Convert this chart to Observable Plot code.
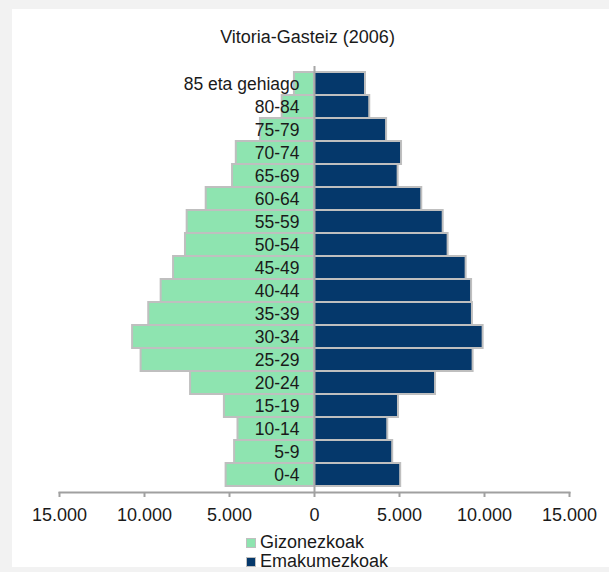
<!DOCTYPE html>
<html>
<head>
<meta charset="utf-8">
<script src="https://cdn.jsdelivr.net/npm/d3@7"></script>
<script src="https://cdn.jsdelivr.net/npm/@observablehq/plot@0.6"></script>
<style>
  html, body { margin: 0; padding: 0; background: #f2f2f2; overflow: hidden; }
  body { width: 609px; height: 572px; position: relative; font-family: "Liberation Sans", Arial, sans-serif; color: #1a1a1a; }
  #panel { position: absolute; left: 12px; top: 9px; width: 597px; height: 558px; background: #fff; }
  #subtitle { height: 40px; box-sizing: border-box; padding-top: 18px; font-size: 18px; line-height: 20px; text-align: center; padding-right: 6px; }
  #chart svg { display: block; }
  #legend { padding-top: 6px; padding-left: 234px; font-size: 18px; line-height: 19px; }
  .item { display: flex; align-items: center; height: 19px; }
  .sw { width: 8px; height: 8px; border: 1px solid #bfbfbf; margin-right: 4px; margin-top: 1px; }
</style>
</head>
<body>
<div id="panel">
  <div id="subtitle">Vitoria-Gasteiz (2006)</div>
  <div id="chart"></div>
  <div id="legend"></div>
</div>
<script>
const ageGroups = ["0-4","5-9","10-14","15-19","20-24","25-29","30-34","35-39","40-44","45-49","50-54","55-59","60-64","65-69","70-74","75-79","80-84","85 eta gehiago"];
const gizonezkoak = [5200, 4700, 4500, 5300, 7290, 10200, 10700, 9750, 9020, 8290, 7590, 7490, 6370, 4820, 4600, 3180, 1900, 1180];
const emakumezkoak = [5070, 4600, 4310, 4940, 7120, 9330, 9920, 9290, 9240, 8920, 7860, 7570, 6310, 4920, 5120, 4240, 3250, 3000];
const seriesNames = ["Gizonezkoak", "Emakumezkoak"];
const seriesColors = ["#8ee4b0", "#05386b"];
const xTicks = [-15000, -10000, -5000, 0, 5000, 10000, 15000];

const rows = [];
ageGroups.forEach((a, i) => {
  rows.push({age: a, sex: seriesNames[0], value: -gizonezkoak[i]});
  rows.push({age: a, sex: seriesNames[1], value: emakumezkoak[i]});
});

const fmt = d => d3.format(",")(Math.abs(d)).replace(/,/g, ".");

const chart = Plot.plot({
  width: 597,
  height: 478,
  marginLeft: 47,
  marginRight: 40,
  marginTop: 17,
  marginBottom: 35,
  style: {fontFamily: "'Liberation Sans', Arial, sans-serif", fontSize: "18px", color: "#1a1a1a", background: "white"},
  x: {domain: [-15000, 15000], axis: null},
  y: {domain: ageGroups.slice().reverse(), padding: 0, axis: null},
  color: {domain: seriesNames, range: seriesColors},
  marks: [
    Plot.barX(rows, {x: "value", y: "age", fill: "sex", stroke: "#bfbfbf", strokeWidth: 2}),
    Plot.ruleX([0], {stroke: "#a6a6a6", strokeWidth: 2}),
    Plot.text(ageGroups, {x: () => 0, y: d => d, dx: -15, textAnchor: "end", fontSize: 17.5, fill: "#1a1a1a"}),
    Plot.frame({anchor: "bottom", stroke: "#a0a0a0", strokeWidth: 2}),
    Plot.axisX({ticks: xTicks, tickSize: 5, stroke: "#a0a0a0", strokeWidth: 2, tickFormat: fmt, tickPadding: 11, fontSize: 18, fill: "#1a1a1a", label: null})
  ]
});
document.getElementById("chart").appendChild(chart);

const legend = document.getElementById("legend");
seriesNames.forEach((n, i) => {
  const it = document.createElement("div");
  it.className = "item";
  const sw = document.createElement("span");
  sw.className = "sw";
  sw.style.background = seriesColors[i];
  const t = document.createElement("span");
  t.textContent = n;
  it.appendChild(sw);
  it.appendChild(t);
  legend.appendChild(it);
});
</script>
</body>
</html>
